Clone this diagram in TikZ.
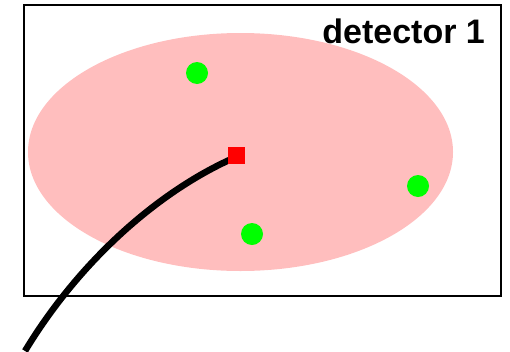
\documentclass[tikz,border=0pt]{standalone}
\usepackage{fontspec}
\setmainfont{Liberation Sans}
\tikzset{every picture/.style={line width=0.75pt}}
\tikzset{
  hit/.style={circle,fill={rgb,255:red,0;green,255;blue,0},inner sep=0pt,minimum size=22pt},
  seed/.style={rectangle,fill={rgb,255:red,255;green,0;blue,0},inner sep=0pt,minimum size=17pt},
  track/.style={line width=6.5pt,black}
}

\begin{document}
\begin{tikzpicture}[x=1pt,y=1pt,yscale=-1,xscale=1]
\useasboundingbox (0,0) rectangle (510,351);

%Shape: Rectangle
\draw [line width=1.2pt] (24,5) rectangle (501,296) ;
%Shape: Ellipse
\fill [fill={rgb,255:red,255;green,190;blue,190}] (240.5,152) ellipse (212.5 and 119) ;

% hits
\node [hit] (h1) at (197,73) {};
\node [hit] (h2) at (418,186) {};
\node [hit] (h3) at (252,234) {};

% track
\coordinate (vtx) at (236,157);
\coordinate (tend) at (25,351);
\draw [track] (vtx) .. controls (160,190) and (80,260) .. (tend) ;
\node [seed] (sq) at (236.3,155.3) {};

% Text Node
\node [anchor=base west,inner sep=0pt,font=\bfseries\fontsize{34}{34}\selectfont] (lbl) at (322,43.5) {detector 1};

\end{tikzpicture}
\end{document}
